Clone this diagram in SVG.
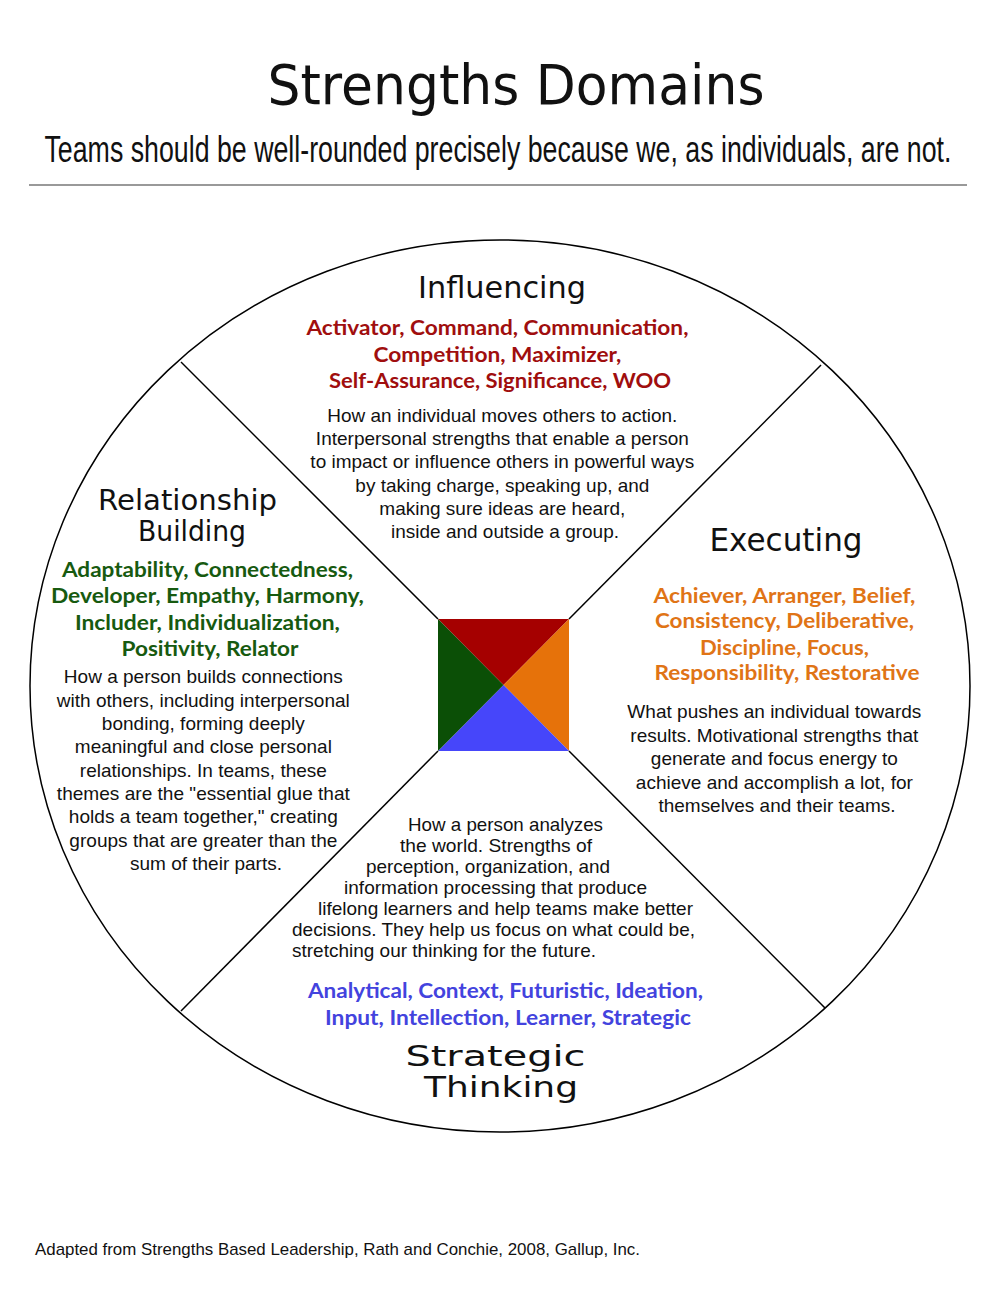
<svg xmlns="http://www.w3.org/2000/svg" width="1000" height="1294" viewBox="0 0 1000 1294">
<style>
.head{font-family:"DejaVu Sans","Verdana",sans-serif;fill:#111;}
.wide{font-family:"DejaVu Sans","Verdana",sans-serif;fill:#111;}
.list{font-family:Lato,"Open Sans","Liberation Sans",sans-serif;font-weight:bold;font-size:21px;}
.desc{font-family:"Liberation Sans",Arial,sans-serif;font-size:19px;fill:#111;}
.red{fill:#A00E0E;}
.green{fill:#175A10;}
.orange{fill:#E07416;}
.blue{fill:#4343DE;}
.edge{stroke:#000;stroke-width:1.5;fill:none;}
</style>
<rect width="1000" height="1294" fill="#fff"/>
<g id="title">
<text class="head" x="516" y="104" font-size="55" text-anchor="middle" textLength="497" lengthAdjust="spacingAndGlyphs">Strengths Domains</text>
<text transform="scale(1,1.4)" x="498" y="115.7" font-family="'Liberation Sans Narrow','Liberation Sans',Arial,sans-serif" font-size="27" fill="#111" text-anchor="middle" textLength="907" lengthAdjust="spacingAndGlyphs">Teams should be well-rounded precisely because we, as individuals, are not.</text>
<line x1="29" y1="185" x2="967" y2="185" stroke="#999" stroke-width="2"/>
</g>
<g id="wheel">
<ellipse class="edge" cx="500" cy="686" rx="470" ry="446"/>
</g>
<g id="connectors">
<line class="edge" x1="181" y1="362" x2="438" y2="619"/>
<line class="edge" x1="821" y1="365" x2="569" y2="619"/>
<line class="edge" x1="181" y1="1011" x2="438" y2="751"/>
<line class="edge" x1="825" y1="1008" x2="569" y2="751"/>
</g>
<g id="center-square">
<polygon points="438,619 569,619 503.5,685" fill="#A50000"/>
<polygon points="569,619 569,751 503.5,685" fill="#E6720A"/>
<polygon points="569,751 438,751 503.5,685" fill="#4646FA"/>
<polygon points="438,751 438,619 503.5,685" fill="#0B4F06"/>
</g>
<g id="influencing">
<text class="head" x="502" y="298" font-size="31" text-anchor="middle" textLength="168" lengthAdjust="spacingAndGlyphs">Influencing</text>
<text class="list red" text-anchor="middle">
<tspan x="500" y="335" textLength="382" lengthAdjust="spacingAndGlyphs">Activator, Command, Communication,</tspan>
<tspan x="500" y="362" textLength="248" lengthAdjust="spacingAndGlyphs">Competition, Maximizer,</tspan>
<tspan x="500" y="388" textLength="342" lengthAdjust="spacingAndGlyphs">Self-Assurance, Significance, WOO</tspan>
</text>
<text class="desc" text-anchor="middle">
<tspan x="505" y="422" textLength="350" lengthAdjust="spacingAndGlyphs">How an individual moves others to action.</tspan>
<tspan x="505" y="445" textLength="373" lengthAdjust="spacingAndGlyphs">Interpersonal strengths that enable a person</tspan>
<tspan x="505" y="468" textLength="384" lengthAdjust="spacingAndGlyphs">to impact or influence others in powerful ways</tspan>
<tspan x="505" y="492" textLength="294" lengthAdjust="spacingAndGlyphs">by taking charge, speaking up, and</tspan>
<tspan x="505" y="515" textLength="246" lengthAdjust="spacingAndGlyphs">making sure ideas are heard,</tspan>
<tspan x="505" y="538" textLength="228" lengthAdjust="spacingAndGlyphs">inside and outside a group.</tspan>
</text>
</g>
<g id="relationship-building">
<text class="wide" font-size="28" text-anchor="middle">
<tspan x="192" y="510" textLength="179" lengthAdjust="spacingAndGlyphs">Relationship</tspan>
<tspan x="192" y="541" textLength="108" lengthAdjust="spacingAndGlyphs">Building</tspan>
</text>
<text class="list green" text-anchor="middle">
<tspan x="210" y="577" textLength="291" lengthAdjust="spacingAndGlyphs">Adaptability, Connectedness,</tspan>
<tspan x="210" y="603" textLength="313" lengthAdjust="spacingAndGlyphs">Developer, Empathy, Harmony,</tspan>
<tspan x="210" y="630" textLength="265" lengthAdjust="spacingAndGlyphs">Includer, Individualization,</tspan>
<tspan x="210" y="656" textLength="177" lengthAdjust="spacingAndGlyphs">Positivity, Relator</tspan>
</text>
<text class="desc" text-anchor="middle">
<tspan x="206" y="683" textLength="279" lengthAdjust="spacingAndGlyphs">How a person builds connections</tspan>
<tspan x="206" y="707" textLength="293" lengthAdjust="spacingAndGlyphs">with others, including interpersonal</tspan>
<tspan x="206" y="730" textLength="203" lengthAdjust="spacingAndGlyphs">bonding, forming deeply</tspan>
<tspan x="206" y="753" textLength="257" lengthAdjust="spacingAndGlyphs">meaningful and close personal</tspan>
<tspan x="206" y="777" textLength="247" lengthAdjust="spacingAndGlyphs">relationships. In teams, these</tspan>
<tspan x="206" y="800" textLength="293" lengthAdjust="spacingAndGlyphs">themes are the "essential glue that</tspan>
<tspan x="206" y="823" textLength="269" lengthAdjust="spacingAndGlyphs">holds a team together," creating</tspan>
<tspan x="206" y="847" textLength="268" lengthAdjust="spacingAndGlyphs">groups that are greater than the</tspan>
<tspan x="206" y="870" textLength="152" lengthAdjust="spacingAndGlyphs">sum of their parts.</tspan>
</text>
</g>
<g id="executing">
<text class="head" x="786" y="551" font-size="32" text-anchor="middle" textLength="153" lengthAdjust="spacingAndGlyphs">Executing</text>
<text class="list orange" text-anchor="middle">
<tspan x="787" y="603" textLength="262" lengthAdjust="spacingAndGlyphs">Achiever, Arranger, Belief,</tspan>
<tspan x="787" y="628" textLength="259" lengthAdjust="spacingAndGlyphs">Consistency, Deliberative,</tspan>
<tspan x="787" y="655" textLength="169" lengthAdjust="spacingAndGlyphs">Discipline, Focus,</tspan>
<tspan x="787" y="680" textLength="265" lengthAdjust="spacingAndGlyphs">Responsibility, Restorative</tspan>
</text>
<text class="desc" text-anchor="middle">
<tspan x="777" y="718" textLength="294" lengthAdjust="spacingAndGlyphs">What pushes an individual towards</tspan>
<tspan x="777" y="742" textLength="288" lengthAdjust="spacingAndGlyphs">results. Motivational strengths that</tspan>
<tspan x="777" y="765" textLength="247" lengthAdjust="spacingAndGlyphs">generate and focus energy to</tspan>
<tspan x="777" y="789" textLength="277" lengthAdjust="spacingAndGlyphs">achieve and accomplish a lot, for</tspan>
<tspan x="777" y="812" textLength="237" lengthAdjust="spacingAndGlyphs">themselves and their teams.</tspan>
</text>
</g>
<g id="strategic-thinking">
<text class="desc">
<tspan x="408" y="831" textLength="195" lengthAdjust="spacingAndGlyphs">How a person analyzes</tspan>
<tspan x="400" y="852" textLength="192" lengthAdjust="spacingAndGlyphs">the world. Strengths of</tspan>
<tspan x="366" y="873" textLength="244" lengthAdjust="spacingAndGlyphs">perception, organization, and</tspan>
<tspan x="344" y="894" textLength="303" lengthAdjust="spacingAndGlyphs">information processing that produce</tspan>
<tspan x="318" y="915" textLength="375" lengthAdjust="spacingAndGlyphs">lifelong learners and help teams make better</tspan>
<tspan x="292" y="936" textLength="403" lengthAdjust="spacingAndGlyphs">decisions. They help us focus on what could be,</tspan>
<tspan x="292" y="957" textLength="304" lengthAdjust="spacingAndGlyphs">stretching our thinking for the future.</tspan>
</text>
<text class="list blue" text-anchor="middle">
<tspan x="508" y="998" textLength="395" lengthAdjust="spacingAndGlyphs">Analytical, Context, Futuristic, Ideation,</tspan>
<tspan x="508" y="1025" textLength="366" lengthAdjust="spacingAndGlyphs">Input, Intellection, Learner, Strategic</tspan>
</text>
<text class="wide" font-size="29" text-anchor="middle">
<tspan x="500" y="1066" textLength="180" lengthAdjust="spacingAndGlyphs">Strategic</tspan>
<tspan x="501" y="1097" textLength="154" lengthAdjust="spacingAndGlyphs">Thinking</tspan>
</text>
</g>
<g id="footer">
<text x="35" y="1255" font-family="'Liberation Sans',Arial,sans-serif" font-size="17" fill="#111" textLength="605" lengthAdjust="spacingAndGlyphs">Adapted from Strengths Based Leadership, Rath and Conchie, 2008, Gallup, Inc.</text>
</g>
</svg>
